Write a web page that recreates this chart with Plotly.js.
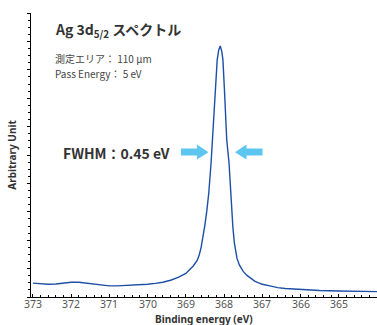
<!DOCTYPE html>
<html>
<head>
<meta charset="utf-8">
<script src="https://cdn.plot.ly/plotly-3.0.1.min.js"></script>
<style>
html,body{margin:0;padding:0;background:#fff;}
#chart{width:377px;height:325px;}
</style>
</head>
<body>
<div id="chart"></div>
<script>
// Binding energy (eV)
const energy = [373.0,372.8,372.6,372.4,372.2,372.0,371.8,371.6,371.4,371.2,371.0,370.8,370.6,370.4,370.2,370.0,369.8,369.6,369.4,369.2,369.0,368.9,368.8,368.7,368.65,368.6,368.55,368.5,368.45,368.4,368.34,368.3,368.23,368.18,368.14,368.1,368.06,368.03,367.99,367.93,367.87,367.83,367.77,367.73,367.66,367.6,367.55,367.5,367.4,367.3,367.2,367.1,367.0,366.8,366.6,366.4,366.2,366.0,365.5,365.0,364.5,364.0];
// Intensity (arbitrary unit)
const intensity = [4.9,4.6,4.5,4.6,4.9,5.2,5.2,4.9,4.4,4.1,3.9,3.9,4.0,4.1,4.3,4.5,4.8,5.2,5.9,6.9,8.3,9.6,11.0,13.0,14.8,17.5,21.0,25.5,30.5,36.6,47.2,56.0,72.9,83.5,87.0,88.4,86.5,83.5,72.9,55.3,47.2,36.6,24.6,19.0,13.5,11.3,10.0,9.0,7.6,6.5,5.6,5.0,4.5,3.9,3.3,3.0,2.8,2.6,2.3,2.1,2.0,1.9];
const xTicks = [373,372,371,370,369,368,367,366,365];

const W = 377, H = 325, mL = 31, mR = 0, mT = 13, mB = 28;
const px = x => (x - mL) / (W - mL - mR);
const py = y => (H - mB - y) / (H - mT - mB);

function arrowPath(pts){
  return 'M ' + pts.map(p => px(p[0]).toFixed(4) + ',' + py(p[1]).toFixed(4)).join(' L ') + ' Z';
}
const arrowColor = '#5cc6f0';
const rightArrow = arrowPath([[181,148.5],[197,148.5],[197,144.5],[208.5,152.3],[197,159.5],[197,155.5],[181,155.5]]);
const leftArrow = arrowPath([[262.5,148.5],[246.5,148.5],[246.5,144.5],[235,152.3],[246.5,159.5],[246.5,155.5],[262.5,155.5]]);

const jp = '"Noto Sans CJK JP", "Noto Sans", sans-serif';

const trace = {
  x: energy, y: intensity, type: 'scatter', mode: 'lines',
  line: {color: '#1d4fa6', width: 1.4},
  hoverinfo: 'skip'
};

const tickAnnotations = xTicks.map(v => ({
  xref: 'x', yref: 'paper', x: v, y: py(304), xanchor: 'center', yanchor: 'middle',
  showarrow: false, text: String(v), font: {size: 10.5, color: '#555'}
}));

const layout = {
  width: W, height: H,
  margin: {l: mL, r: mR, t: mT, b: mB, pad: 0},
  paper_bgcolor: '#fff', plot_bgcolor: '#fff',
  showlegend: false,
  font: {family: '"Noto Sans", sans-serif', color: '#444'},
  xaxis: {
    range: [373.05, 364.0], autorange: false,
    tickvals: xTicks,
    showticklabels: false,
    ticks: 'inside', ticklen: 3, tickwidth: 1, tickcolor: '#000',
    minor: {dtick: 0.2, ticks: 'inside', ticklen: 2, tickcolor: '#000', tick0: 373},
    showline: true, linecolor: '#000', linewidth: 1,
    showgrid: false, zeroline: false
  },
  yaxis: {
    range: [0, 100], autorange: false,
    tick0: 0, dtick: 10,
    ticks: 'outside', ticklen: 3, tickwidth: 1, tickcolor: '#000',
    minor: {dtick: 2.5, ticks: 'outside', ticklen: 2, tickcolor: '#000'},
    showticklabels: false,
    showline: true, linecolor: '#000', linewidth: 1,
    showgrid: false, zeroline: false,
    title: {text: '<b>Arbitrary Unit</b>', font: {size: 10, color: '#333'}, standoff: 8}
  },
  shapes: [
    {type: 'path', xref: 'paper', yref: 'paper', path: rightArrow, fillcolor: arrowColor, line: {width: 0}},
    {type: 'path', xref: 'paper', yref: 'paper', path: leftArrow, fillcolor: arrowColor, line: {width: 0}}
  ],
  annotations: tickAnnotations.concat([
    {xref: 'paper', yref: 'paper', x: 0.5, y: py(319), xanchor: 'center', yanchor: 'middle', showarrow: false,
     text: '<b>Binding energy (eV)</b>', font: {size: 10, color: '#333'}},
    {xref: 'paper', yref: 'paper', x: px(53), y: py(30), xanchor: 'left', yanchor: 'middle', showarrow: false,
     text: '<b>Ag 3d<sub>5/2</sub> スペクトル</b>', font: {family: jp, size: 14, color: '#333'}},
    {xref: 'paper', yref: 'paper', x: px(53), y: py(58), xanchor: 'left', yanchor: 'middle', showarrow: false,
     text: '測定エリア： 110 μm', font: {family: jp, size: 10, color: '#444'}},
    {xref: 'paper', yref: 'paper', x: px(53), y: py(73), xanchor: 'left', yanchor: 'middle', showarrow: false,
     text: 'Pass Energy： 5 eV', font: {family: jp, size: 10, color: '#444'}},
    {xref: 'paper', yref: 'paper', x: px(61), y: py(153), xanchor: 'left', yanchor: 'middle', showarrow: false,
     text: '<b>FWHM：0.45 eV</b>', font: {family: jp, size: 14, color: '#333'}}
  ])
};

Plotly.newPlot('chart', [trace], layout, {displayModeBar: false, staticPlot: true});
</script>
</body>
</html>
